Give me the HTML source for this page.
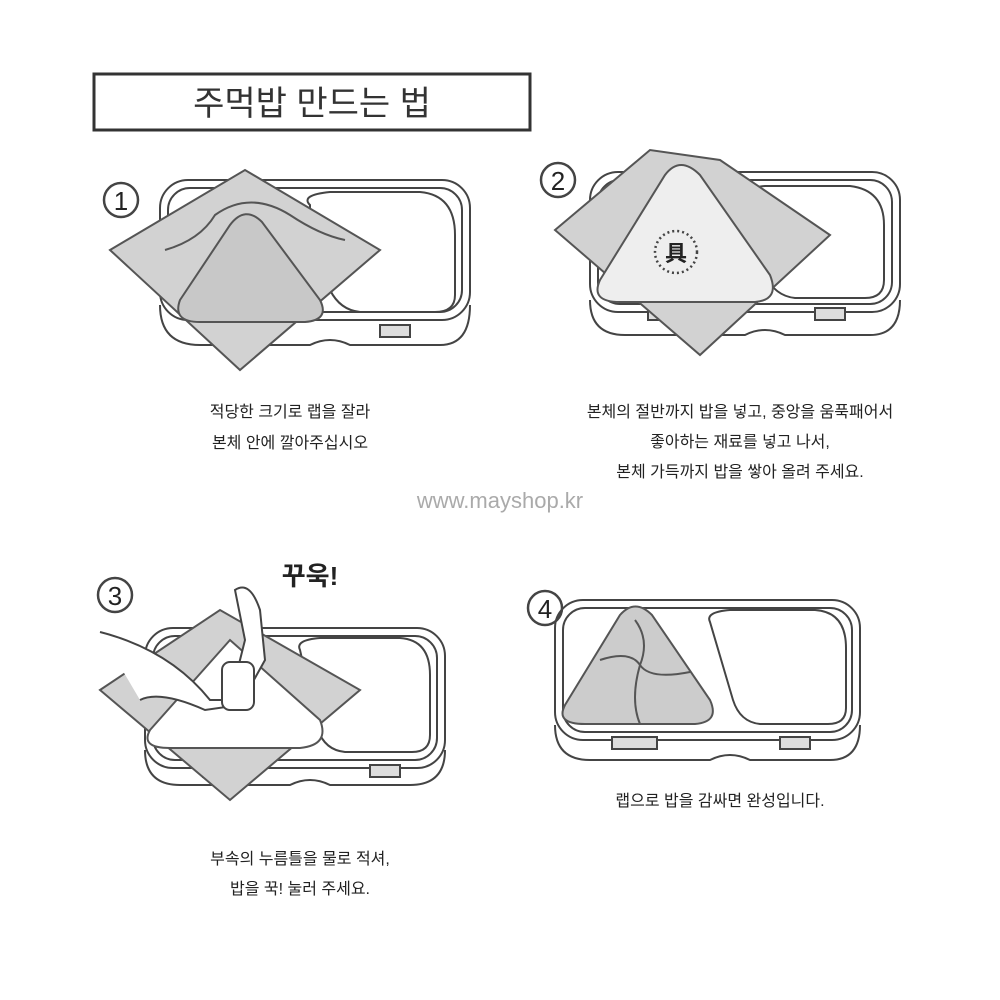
<!DOCTYPE html>
<html><head><meta charset="utf-8"><style>
html,body{margin:0;padding:0;background:#fff;}
svg{display:block;}
text{font-family:"Liberation Sans","Noto Sans CJK KR",sans-serif;fill:#222;}
</style></head><body>
<svg width="1000" height="1000" viewBox="0 0 1000 1000" xmlns="http://www.w3.org/2000/svg">
<rect width="1000" height="1000" fill="#fff"/>
<rect x="94" y="74" width="436" height="56" fill="none" stroke="#333" stroke-width="3"/>
<text x="312" y="115" font-size="34" text-anchor="middle" style="fill:#333">주먹밥 만드는 법</text>

<circle cx="121" cy="200" r="17" fill="none" stroke="#444" stroke-width="2.5"/>
<text x="121" y="210" font-size="26" text-anchor="middle">1</text>
<g stroke="#444" stroke-width="2" fill="none">
 <path d="M160 305 Q160 345 200 345 L310 345 Q330 335 350 345 L440 345 Q470 345 470 305" />
 <rect x="160" y="180" width="310" height="140" rx="28"/>
 <rect x="168" y="188" width="294" height="124" rx="22"/>
 <path d="M310 205 Q300 195 330 192 L420 192 Q455 195 455 235 L455 295 Q455 312 435 312 L360 312 Q340 310 330 290 L310 240 Z"/>
 <rect x="218" y="325" width="45" height="12" fill="#ddd"/>
 <rect x="380" y="325" width="30" height="12" fill="#ddd"/>
 <polygon points="110,250 245,170 380,250 240,370" fill="#d2d2d2" stroke="#555"/>
 <path d="M180 300 L230 225 Q245 205 262 222 L320 300 Q330 320 305 322 L200 322 Q172 322 180 300Z" fill="#c8c8c8" stroke="#555"/>
 <path d="M165 250 Q200 240 215 215 Q250 190 290 215 Q320 235 345 240" stroke="#555"/>
</g>
<text x="290" y="417" font-size="16" text-anchor="middle">적당한 크기로 랩을 잘라</text>
<text x="290" y="448" font-size="16" text-anchor="middle">본체 안에 깔아주십시오</text>

<circle cx="558" cy="180" r="17" fill="none" stroke="#444" stroke-width="2.5"/>
<text x="558" y="190" font-size="26" text-anchor="middle">2</text>
<g stroke="#444" stroke-width="2" fill="none">
 <path d="M590 300 Q590 335 625 335 L745 335 Q765 325 785 335 L870 335 Q900 335 900 300"/>
 <rect x="590" y="172" width="310" height="140" rx="28"/>
 <rect x="598" y="180" width="294" height="124" rx="22"/>
 <path d="M745 200 Q740 188 765 186 L850 186 Q884 190 884 225 L884 280 Q884 298 865 298 L795 298 Q775 296 765 275 Z"/>
 <rect x="648" y="308" width="45" height="12" fill="#ddd"/>
 <rect x="815" y="308" width="30" height="12" fill="#ddd"/>
 <polygon points="555,230 650,150 720,160 830,235 700,355" fill="#d2d2d2" stroke="#555"/>
 <path d="M600 280 L665 175 Q680 155 700 175 L770 275 Q780 300 755 302 L620 302 Q590 302 600 280Z" fill="#eee" stroke="#555"/>
 <circle cx="676" cy="252" r="21" stroke-dasharray="2 3" stroke-width="2.5"/>
</g>
<text x="676" y="261" font-size="22" text-anchor="middle" font-weight="bold">具</text>
<text x="740" y="417" font-size="16" text-anchor="middle">본체의 절반까지 밥을 넣고, 중앙을 움푹패어서</text>
<text x="740" y="447" font-size="16" text-anchor="middle">좋아하는 재료를 넣고 나서,</text>
<text x="740" y="477" font-size="16" text-anchor="middle">본체 가득까지 밥을 쌓아 올려 주세요.</text>

<text x="500" y="508" font-size="22" text-anchor="middle" style="fill:#aaa">www.mayshop.kr</text>

<circle cx="115" cy="595" r="17" fill="none" stroke="#444" stroke-width="2.5"/>
<text x="115" y="605" font-size="26" text-anchor="middle">3</text>
<text x="310" y="585" font-size="26" text-anchor="middle" font-weight="bold">꾸욱!</text>
<g stroke="#444" stroke-width="2" fill="none">
 <path d="M145 750 Q145 785 180 785 L290 785 Q310 775 330 785 L410 785 Q445 785 445 750"/>
 <rect x="145" y="628" width="300" height="140" rx="28"/>
 <rect x="153" y="636" width="284" height="124" rx="22"/>
 <path d="M300 650 Q295 640 320 638 L400 638 Q430 640 430 675 L430 735 Q430 752 412 752 L345 752 Q325 750 318 730 Z"/>
 <rect x="203" y="765" width="45" height="12" fill="#ddd"/>
 <rect x="370" y="765" width="30" height="12" fill="#ddd"/>
 <polygon points="100,690 220,610 360,690 230,800" fill="#d2d2d2" stroke="#555"/>
 <path d="M150 730 L230 640 L320 720 Q330 745 300 748 L170 748 Q140 748 150 730Z" fill="#fff" stroke="#555"/>
 <path d="M100 632 Q170 650 210 700 L230 700 L245 640 L235 590 Q250 580 260 610 L265 660 L240 705 L205 710 Q160 690 140 700" fill="#fff"/>
 <rect x="222" y="662" width="32" height="48" rx="8" fill="#fff"/>
</g>
<text x="300" y="864" font-size="16" text-anchor="middle">부속의 누름틀을 물로 적셔,</text>
<text x="300" y="894" font-size="16" text-anchor="middle">밥을 꾹! 눌러 주세요.</text>

<circle cx="545" cy="608" r="17" fill="none" stroke="#444" stroke-width="2.5"/>
<text x="545" y="618" font-size="26" text-anchor="middle">4</text>
<g stroke="#444" stroke-width="2" fill="none">
 <path d="M555 725 Q555 760 590 760 L710 760 Q730 750 750 760 L830 760 Q860 760 860 725"/>
 <rect x="555" y="600" width="305" height="140" rx="28"/>
 <rect x="563" y="608" width="289" height="124" rx="22"/>
 <path d="M710 622 Q705 612 730 610 L815 610 Q846 612 846 648 L846 708 Q846 724 828 724 L760 724 Q740 722 733 700 Z"/>
 <rect x="612" y="737" width="45" height="12" fill="#ddd"/>
 <rect x="780" y="737" width="30" height="12" fill="#ddd"/>
 <path d="M565 705 L620 615 Q635 598 652 615 L710 700 Q720 722 695 724 L585 724 Q555 724 565 705Z" fill="#ccc" stroke="#555"/>
 <path d="M600 660 Q630 650 640 665 Q650 680 690 672 M640 665 Q630 700 640 724 M640 665 Q650 640 635 620" stroke="#555"/>
</g>
<text x="720" y="806" font-size="16" text-anchor="middle">랩으로 밥을 감싸면 완성입니다.</text>
</svg>
</body></html>
